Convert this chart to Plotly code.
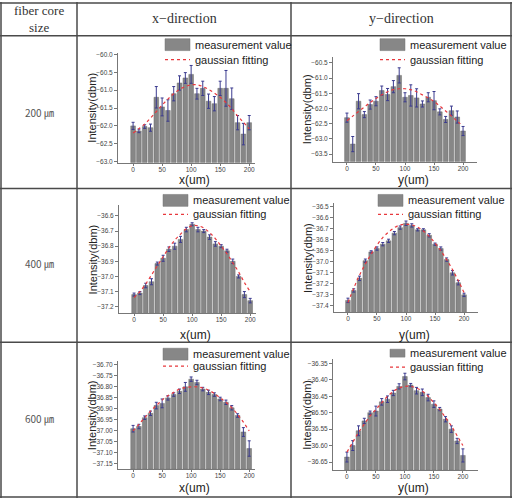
import plotly.graph_objects as go

W, H = 512, 500

positions = [0, 10, 20, 30, 40, 50, 60, 70, 80, 90, 100, 110, 120, 130, 140, 150, 160, 170, 180, 190, 200]

# 200 um, x-direction
x200_meas = [-62.00, -62.14, -62.02, -62.05, -61.20, -61.47, -61.57, -61.10, -60.80, -60.66, -60.56,
             -61.10, -60.95, -61.31, -61.38, -60.95, -60.95, -61.24, -61.91, -62.23, -61.91]
x200_err = [0.10, 0.05, 0.05, 0.10, 0.30, 0.25, 0.30, 0.20, 0.20, 0.15, 0.25,
            0.15, 0.20, 0.20, 0.20, 0.20, 0.50, 0.30, 0.20, 0.30, 0.20]
x200_fit = [-62.20, -62.08, -61.95, -61.78, -61.60, -61.42, -61.25, -61.10, -60.98, -60.90, -60.85,
            -60.85, -60.90, -60.98, -61.08, -61.20, -61.35, -61.52, -61.72, -61.90, -62.08]

# 200 um, y-direction
y200_meas = [-62.30, -63.17, -61.76, -62.20, -61.87, -61.76, -61.41, -61.54, -61.28, -60.91, -61.63,
             -61.57, -61.65, -61.85, -61.63, -61.74, -62.11, -62.36, -62.07, -62.28, -62.74]
y200_err = [0.15, 0.25, 0.25, 0.10, 0.15, 0.15, 0.15, 0.20, 0.20, 0.25, 0.15,
            0.35, 0.30, 0.10, 0.15, 0.30, 0.10, 0.10, 0.15, 0.20, 0.15]
y200_fit = [-62.40, -62.25, -62.10, -61.95, -61.80, -61.67, -61.55, -61.45, -61.38, -61.35, -61.35,
            -61.38, -61.45, -61.55, -61.65, -61.77, -61.92, -62.08, -62.25, -62.42, -62.58]

# 400 um, x-direction
x400_meas = [-37.12, -37.11, -37.06, -37.035, -36.915, -36.88, -36.82, -36.80, -36.755, -36.69, -36.655,
             -36.69, -36.70, -36.74, -36.785, -36.80, -36.83, -36.90, -37.00, -37.12, -37.16]
x400_err = [0.01, 0.01, 0.015, 0.02, 0.01, 0.02, 0.015, 0.02, 0.02, 0.015, 0.01,
            0.015, 0.01, 0.015, 0.015, 0.01, 0.01, 0.015, 0.01, 0.02, 0.015]
x400_fit = [-37.14, -37.10, -37.05, -36.99, -36.93, -36.87, -36.81, -36.76, -36.72, -36.685, -36.665,
            -36.665, -36.68, -36.71, -36.75, -36.80, -36.85, -36.91, -36.97, -37.04, -37.10]

# 400 um, y-direction
y400_meas = [-37.35, -37.26, -37.15, -36.99, -36.91, -36.88, -36.84, -36.81, -36.74, -36.69, -36.65,
             -36.67, -36.71, -36.71, -36.76, -36.84, -36.88, -36.98, -37.10, -37.19, -37.30]
y400_err = [0.02, 0.015, 0.02, 0.015, 0.01, 0.015, 0.015, 0.015, 0.015, 0.015, 0.02,
            0.015, 0.01, 0.01, 0.015, 0.01, 0.015, 0.015, 0.02, 0.02, 0.015]
y400_fit = [-37.37, -37.24, -37.12, -37.02, -36.93, -36.85, -36.78, -36.73, -36.69, -36.665, -36.66,
            -36.665, -36.685, -36.72, -36.77, -36.83, -36.90, -36.98, -37.07, -37.17, -37.28]

# 600 um, x-direction
x600_meas = [-36.99, -36.98, -36.94, -36.92, -36.885, -36.875, -36.85, -36.835, -36.82, -36.80, -36.765,
             -36.78, -36.81, -36.825, -36.835, -36.855, -36.87, -36.895, -36.93, -37.005, -37.08]
x600_err = [0.015, 0.01, 0.008, 0.01, 0.015, 0.02, 0.01, 0.008, 0.01, 0.02, 0.01,
            0.01, 0.008, 0.01, 0.008, 0.008, 0.01, 0.01, 0.008, 0.02, 0.035]
x600_fit = [-37.00, -36.97, -36.94, -36.91, -36.885, -36.86, -36.84, -36.825, -36.81, -36.803, -36.80,
            -36.80, -36.805, -36.815, -36.83, -36.85, -36.87, -36.895, -36.925, -36.96, -37.00]

# 600 um, y-direction
y600_meas = [-36.635, -36.60, -36.555, -36.525, -36.50, -36.495, -36.467, -36.459, -36.44, -36.42, -36.39,
             -36.416, -36.433, -36.438, -36.454, -36.474, -36.489, -36.52, -36.55, -36.586, -36.63]
y600_err = [0.015, 0.015, 0.015, 0.008, 0.005, 0.015, 0.01, 0.01, 0.008, 0.008, 0.01,
            0.005, 0.01, 0.01, 0.01, 0.01, 0.005, 0.008, 0.01, 0.008, 0.02]
y600_fit = [-36.62, -36.59, -36.56, -36.535, -36.51, -36.49, -36.47, -36.45, -36.435, -36.425, -36.42,
            -36.42, -36.425, -36.435, -36.45, -36.47, -36.49, -36.515, -36.54, -36.57, -36.60]

row_labels = ["200 ㎛", "400 ㎛", "600 ㎛"]
col_labels = ["x−direction", "y−direction"]
corner_label = "fiber core<br>size"
legend_meas = "measurement value"
legend_fit = "gaussian fitting"
ytitle = "Intensity(dbm)"
xtitles = ["x(um)", "y(um)"]

series = [
    (x200_meas, x200_err, x200_fit),
    (y200_meas, y200_err, y200_fit),
    (x400_meas, x400_err, x400_fit),
    (y400_meas, y400_err, y400_fit),
    (x600_meas, x600_err, x600_fit),
    (y600_meas, y600_err, y600_fit),
]

# layout of each panel in pixels
panels = [
    dict(xd=(118, 255), yd=(51, 162), xr=(-26, 210), yr=(-63.03, -59.95), dtick=0.5, fmt=".1f"),
    dict(xd=(333, 477), yd=(55, 161), xr=(-24, 224), yr=(-63.75, -60.29), dtick=0.5, fmt=".1f"),
    dict(xd=(119, 256), yd=(205, 314), xr=(-26, 210), yr=(-37.245, -36.53), dtick=0.1, fmt=".1f"),
    dict(xd=(334, 478), yd=(203, 313), xr=(-24, 224), yr=(-37.46, -36.47), dtick=0.1, fmt=".1f"),
    dict(xd=(118, 255), yd=(362, 471), xr=(-26, 210), yr=(-37.174, -36.683), dtick=0.05, fmt=".2f"),
    dict(xd=(333, 478), yd=(360, 472), xr=(-24, 226), yr=(-36.675, -36.337), dtick=0.05, fmt=".2f"),
]
legend_pos = [(165, 43, 58, 25), (380, 43, 58, 25), (163, 200, 214, 25),
              (378, 200, 214, 25), (163, 355, 367, 25), (390, 354, 368, 15)]
xtitle_y = [179, 179, 336, 336, 490, 490]

def px(x):
    return x / W

def py(y):
    return 1 - y / H

def text(x, y, t, size, family=None, color="#222", xanchor="center", angle=0):
    f = dict(size=size, color=color)
    if family:
        f["family"] = family
    return dict(x=px(x), y=py(y), xref="paper", yref="paper", text=t, showarrow=False,
                xanchor=xanchor, yanchor="middle", textangle=angle, font=f)

fig = go.Figure()
layout = dict(width=W, height=H, margin=dict(l=0, r=0, t=0, b=0),
              paper_bgcolor="white", plot_bgcolor="white", showlegend=False,
              font=dict(family="Liberation Sans, Arial, sans-serif", color="#333"))
annotations = []
shapes = []

BAR_COLOR = "#878787"
ERR_COLOR = "#3b3b8f"
FIT_COLOR = "#e8383d"

for i, (p, (meas, err, fit)) in enumerate(zip(panels, series)):
    k = "" if i == 0 else str(i + 1)
    xa, ya = "x" + k, "y" + k
    base = p["yr"][0]
    fig.add_trace(go.Bar(
        x=positions, y=[v - base for v in meas], base=base, width=8,
        marker=dict(color=BAR_COLOR, line=dict(color="#6a6a6a", width=0.5)),
        error_y=dict(type="data", array=err, color=ERR_COLOR, thickness=1, width=1.5),
        xaxis=xa, yaxis=ya))
    fig.add_trace(go.Scatter(
        x=positions, y=fit, mode="lines", line=dict(color=FIT_COLOR, width=1.2, dash="dot", shape="spline"),
        xaxis=xa, yaxis=ya))
    layout["xaxis" + k] = dict(
        domain=[px(p["xd"][0]), px(p["xd"][1])], range=list(p["xr"]), anchor=ya,
        showgrid=False, zeroline=False, showline=True, linecolor="#777", linewidth=1,
        ticks="outside", ticklen=2, tickcolor="#777", tickvals=[0, 50, 100, 150, 200],
        ticklabelstandoff=-2, tickfont=dict(size=6.5, color="#444"))
    layout["yaxis" + k] = dict(
        domain=[py(p["yd"][1]), py(p["yd"][0])], range=list(p["yr"]), anchor=xa,
        showgrid=False, zeroline=False, showline=True, linecolor="#777", linewidth=1,
        ticks="outside", ticklen=3, tickcolor="#777", dtick=p["dtick"], tick0=0,
        tickformat=p["fmt"], tickfont=dict(size=6.5, color="#444"))
    # axis titles
    xc = (p["xd"][0] + p["xd"][1]) / 2 + 8
    annotations.append(text(xc, xtitle_y[i], xtitles[i % 2], 12))
    ty = (p["yd"][0] + p["yd"][1]) / 2
    tx = p["xd"][0] - 26
    annotations.append(text(tx, ty, ytitle, 11, angle=-90))
    # legend
    bx, ly1, ly2, bw = legend_pos[i]
    bh = 12 if bw > 20 else 8
    shapes.append(dict(type="rect", xref="paper", yref="paper", x0=px(bx), x1=px(bx + bw),
                       y0=py(ly1 + bh / 2), y1=py(ly1 - bh / 2), fillcolor=BAR_COLOR,
                       line=dict(color="#777", width=0.5)))
    shapes.append(dict(type="line", xref="paper", yref="paper", x0=px(bx), x1=px(bx + bw),
                       y0=py(ly2), y1=py(ly2), line=dict(color=FIT_COLOR, width=1.2, dash="dot")))
    annotations.append(text(bx + bw + 3, ly1, legend_meas, 11, xanchor="left"))
    annotations.append(text(bx + bw + 3, ly2, legend_fit, 11, xanchor="left"))

# table grid
LINE = "#4a4a4a"
for x in [1, 77, 291, 511]:
    shapes.append(dict(type="line", xref="paper", yref="paper", x0=px(x), x1=px(x), y0=py(0), y1=py(500),
                       line=dict(color=LINE, width=1.5)))
for y in [1, 34, 188, 343, 499]:
    shapes.append(dict(type="line", xref="paper", yref="paper", x0=px(0), x1=px(512), y0=py(y), y1=py(y),
                       line=dict(color=LINE, width=1.5)))

SERIF = "Liberation Serif, DejaVu Serif, serif"
annotations.append(text(39, 17, corner_label, 13, family=SERIF, color="#333"))
annotations.append(text(184, 17, col_labels[0], 14, family=SERIF, color="#333"))
annotations.append(text(401, 17, col_labels[1], 14, family=SERIF, color="#333"))
for lbl, yy in zip(row_labels, [111, 264, 420]):
    annotations.append(text(39, yy, lbl, 10, family="Noto Sans CJK KR, sans-serif", color="#555"))

layout["annotations"] = annotations
layout["shapes"] = shapes
fig.update_layout(**layout)
fig.write_html("out.html")
